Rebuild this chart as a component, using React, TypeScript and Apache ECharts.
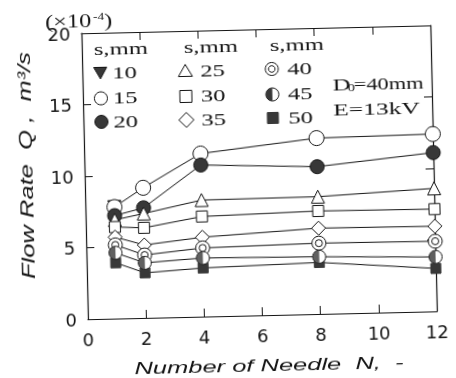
import React, { useEffect, useRef } from "react";
import * as echarts from "echarts";

// Needle count N on the horizontal axis
const needleCounts = [1, 2, 4, 8, 12];

// Flow rate Q (x10^-4 m^3/s) for each needle spacing s (mm)
const spacingLabels = ["10", "15", "20", "25", "30", "35", "40", "45", "50"];
const flowS10 = [7.8];
const flowS15 = [7.8, 9.1, 11.4, 12.3, 12.4];
const flowS20 = [7.2, 7.7, 10.6, 10.3, 11.1];
const flowS25 = [6.9, 7.3, 8.15, 8.2, 8.6];
const flowS30 = [6.4, 6.3, 7.0, 7.2, 7.15];
const flowS35 = [5.7, 5.1, 5.55, 6.0, 5.95];
const flowS40 = [5.15, 4.4, 4.8, 4.95, 4.9];
const flowS45 = [4.6, 3.85, 4.1, 4.0, 3.8];
const flowS50 = [3.9, 3.15, 3.4, 3.6, 3.0];

// Axis ranges
const xRange = { min: 0, max: 12, step: 2 };
const yRange = { min: 0, max: 20, step: 5 };

const INK = "#141414";
const SHADE = "#383838";
const PAPER = "#ffffff";

const RING = "path://M0,10A10,10 0 1,0 20,10A10,10 0 1,0 0,10Z M5,10A5,5 0 1,0 15,10A5,5 0 1,0 5,10Z";
const HALF_DISC = "path://M10,0A10,10 0 0,0 10,20Z";

const pairs = (vals: number[]) => vals.map((v, i) => [needleCounts[i], v]);

function lineSeries(name: string, vals: number[], symbol: string, size: any, fill: string, extra: any = {}) {
  return {
    type: "line",
    name,
    data: pairs(vals),
    symbol,
    symbolSize: size,
    showAllSymbol: true,
    lineStyle: { color: INK, width: 1 },
    itemStyle: { color: fill, borderColor: INK, borderWidth: 1 },
    emphasis: { disabled: true },
    ...extra,
  };
}

const serifText = (text: string, x: number, y: number, scaleX = 1.45, fontSize = 17) => ({
  type: "text",
  x,
  y,
  scaleX,
  style: {
    text,
    fontFamily: "Liberation Serif",
    fontSize,
    fill: INK,
    align: "left",
    verticalAlign: "middle",
    textAlign: "left",
    textVerticalAlign: "middle",
  },
});

function legendMark(kind: string, cx: number, cy: number): any[] {
  const line = { stroke: INK, lineWidth: 1 };
  switch (kind) {
    case "triDown":
      return [{ type: "polygon", shape: { points: [[cx - 6.5, cy - 5.5], [cx + 6.5, cy - 5.5], [cx, cy + 6]] }, style: { fill: SHADE, ...line } }];
    case "triUp":
      return [{ type: "polygon", shape: { points: [[cx, cy - 6.5], [cx + 7, cy + 5.5], [cx - 7, cy + 5.5]] }, style: { fill: PAPER, ...line } }];
    case "open":
      return [{ type: "circle", shape: { cx, cy, r: 6.5 }, style: { fill: PAPER, ...line } }];
    case "dot":
      return [{ type: "circle", shape: { cx, cy, r: 6.5 }, style: { fill: SHADE, ...line } }];
    case "square":
      return [{ type: "rect", shape: { x: cx - 6, y: cy - 6, width: 12, height: 12 }, style: { fill: PAPER, ...line } }];
    case "diamond":
      return [{ type: "polygon", shape: { points: [[cx, cy - 7.5], [cx + 7.5, cy], [cx, cy + 7.5], [cx - 7.5, cy]] }, style: { fill: PAPER, ...line } }];
    case "ring":
      return [
        { type: "circle", shape: { cx, cy, r: 6.5 }, style: { fill: PAPER, ...line } },
        { type: "circle", shape: { cx, cy, r: 3.3 }, style: { fill: PAPER, ...line } },
      ];
    case "half":
      return [
        { type: "circle", shape: { cx, cy, r: 6.5 }, style: { fill: PAPER, ...line } },
        { type: "sector", shape: { cx, cy, r0: 0, r: 6.5, startAngle: Math.PI / 2, endAngle: Math.PI * 1.5, clockwise: true }, style: { fill: SHADE } },
      ];
    default:
      return [{ type: "rect", shape: { x: cx - 5.5, y: cy - 5.5, width: 11, height: 11 }, style: { fill: SHADE, stroke: SHADE, lineWidth: 1 } }];
  }
}

export default function App() {
  const ref = useRef<HTMLDivElement>(null);

  useEffect(() => {
    if (!ref.current) return;
    const chart = echarts.init(ref.current, undefined, { renderer: "svg" });

    const legendKinds = ["triDown", "open", "dot", "triUp", "square", "diamond", "ring", "half", "solid"];
    const colMark = [103, 188, 274.5];
    const colText = [115, 203, 290];
    const colHead = [97, 187, 273];
    const rowY = [70, 95.5, 119];

    const graphics: any[] = [];
    colHead.forEach((x) => graphics.push(serifText("s,mm", x, 46)));
    spacingLabels.forEach((label, i) => {
      const c = Math.floor(i / 3);
      const r = i % 3;
      graphics.push(...legendMark(legendKinds[i], colMark[c], rowY[r]));
      graphics.push(serifText(label, colText[c], rowY[r]));
    });
    // D0 with a lowered, smaller zero
    graphics.push(serifText("D", 335, 87));
    graphics.push(serifText("0", 350, 91, 1.3, 11));
    graphics.push(serifText("=40mm", 356, 87, 1.32));
    graphics.push(serifText("E=13kV", 335, 113, 1.5));
    // axis multiplier
    graphics.push(serifText("(×10", 49, 18, 1.35, 18));
    graphics.push(serifText("-4", 97, 13, 1.2, 11));
    graphics.push(serifText(")", 108, 18, 1.35, 18));

    graphics.push({
      type: "text",
      x: 26.5,
      y: 161,
      rotation: Math.PI / 2,
      scaleX: 1.42,
      style: {
        text: "Flow Rate  Q ,  m³/s",
        fontFamily: "Liberation Sans",
        fontStyle: "italic",
        fontSize: 18,
        fill: INK,
        align: "center",
        verticalAlign: "middle",
        textAlign: "center",
        textVerticalAlign: "middle",
      },
    });
    graphics.push({
      type: "text",
      x: 265,
      y: 366,
      scaleX: 1.5,
      style: {
        text: "Number of Needle  N,  -",
        fontFamily: "Liberation Sans",
        fontStyle: "italic",
        fontSize: 17,
        fill: INK,
        align: "center",
        verticalAlign: "middle",
        textAlign: "center",
        textVerticalAlign: "middle",
      },
    });

    const makeAxisLine = () => ({ show: true, onZero: false, lineStyle: { color: INK, width: 1.2 } });
    const makeTick = () => ({ show: true, inside: true, length: 8, lineStyle: { color: INK, width: 1 } });
    const tickLabel = { fontFamily: "DejaVu Sans", fontSize: 18, color: INK };

    chart.setOption({
      animation: false,
      backgroundColor: PAPER,
      grid: { left: 85, top: 30, width: 349, height: 286, containLabel: false },
      xAxis: [
        {
          type: "value",
          min: xRange.min,
          max: xRange.max,
          interval: xRange.step,
          position: "bottom",
          axisLine: makeAxisLine(),
          axisTick: makeTick(),
          splitLine: { show: false },
          axisLabel: { ...tickLabel, margin: 11, showMinLabel: true, showMaxLabel: true },
        },
        {
          type: "value",
          min: xRange.min,
          max: xRange.max,
          interval: xRange.step,
          position: "top",
          axisLine: makeAxisLine(),
          axisTick: makeTick(),
          splitLine: { show: false },
          axisLabel: { show: false },
        },
      ],
      yAxis: [
        {
          type: "value",
          min: yRange.min,
          max: yRange.max,
          interval: yRange.step,
          position: "left",
          axisLine: makeAxisLine(),
          axisTick: makeTick(),
          splitLine: { show: false },
          axisLabel: { ...tickLabel, margin: 11, showMinLabel: true, showMaxLabel: true },
        },
        {
          type: "value",
          min: yRange.min,
          max: yRange.max,
          interval: yRange.step,
          position: "right",
          axisLine: makeAxisLine(),
          axisTick: makeTick(),
          splitLine: { show: false },
          axisLabel: { show: false },
        },
      ],
      series: [
        lineSeries("s=10", flowS10, "triangle", 13, SHADE, { symbolRotate: 180 }),
        lineSeries("s=15", flowS15, "circle", 15, PAPER),
        lineSeries("s=20", flowS20, "circle", 14, SHADE),
        lineSeries("s=25", flowS25, "triangle", 13, PAPER),
        lineSeries("s=30", flowS30, "rect", 11, PAPER),
        lineSeries("s=35", flowS35, "diamond", 14, PAPER),
        lineSeries("s=40", flowS40, RING, 14, PAPER),
        lineSeries("s=50", flowS50, "rect", 10, SHADE, { itemStyle: { color: SHADE, borderColor: SHADE, borderWidth: 1 } }),
        lineSeries("s=45", flowS45, "circle", 13, PAPER),
        {
          type: "scatter",
          name: "s=45 shade",
          data: pairs(flowS45),
          symbol: HALF_DISC,
          symbolSize: [6.5, 13],
          symbolOffset: [-3.25, 0],
          itemStyle: { color: SHADE, borderWidth: 0 },
          emphasis: { disabled: true },
          z: 3,
        },
      ],
      graphic: graphics,
    });

    return () => chart.dispose();
  }, []);

  return (
    <div
      ref={ref}
      style={{
        position: "fixed",
        left: 0,
        top: 0,
        width: 456,
        height: 378,
        transform: "rotate(-1.3deg)",
        background: PAPER,
      }}
    />
  );
}
